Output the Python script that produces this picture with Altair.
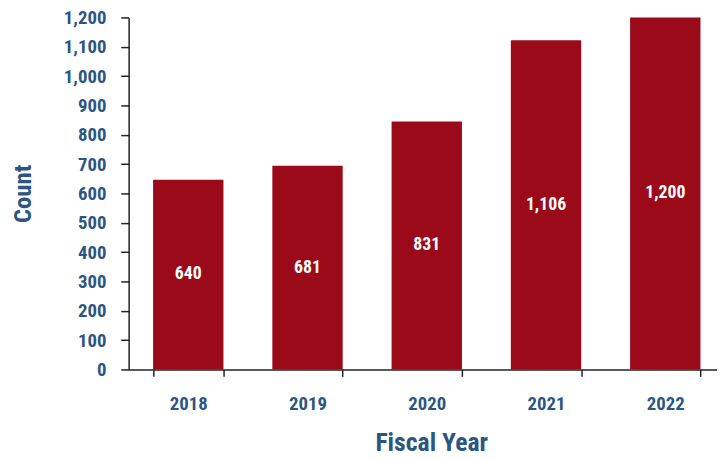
import altair as alt
import pandas as pd

years = ["2018", "2019", "2020", "2021", "2022"]
bar_heights = [647, 694, 845, 1122, 1200]
bar_labels = ["640", "681", "831", "1,106", "1,200"]
y_ticks = list(range(0, 1201, 100))

df = pd.DataFrame({"year": years, "count": bar_heights, "label": bar_labels})
df["half"] = df["count"] / 2

FONT = "Roboto Condensed, Liberation Sans Narrow, Liberation Sans, Arial, sans-serif"
BLUE = "#2B5583"
RED = "#9B0A19"

x_scale = alt.Scale(range=[0, 603], paddingInner=0.41, paddingOuter=0.205)
y_scale = alt.Scale(domain=[0, 1200], nice=False)

x_axis = alt.Axis(
    title="Fiscal Year",
    labelAngle=0,
    tickBand="extent",
    tickSize=7,
    labelBaseline="alphabetic",
    labelPadding=34,
    labelFontSize=19,
    titleFontSize=26,
    titleX=306,
    titleY=82,
    titleBaseline="alphabetic",
)
y_axis = alt.Axis(
    title="Count",
    values=y_ticks,
    format=",d",
    tickSize=8,
    labelPadding=15,
    labelFontSize=19,
    titleFontSize=25,
    titleX=-107,
    titleY=178,
    titleAngle=-90,
    titleAlign="center",
    titleBaseline="middle",
)

base = alt.Chart(df).encode(
    x=alt.X("year:N", sort=years, scale=x_scale, axis=x_axis)
)

bars = base.mark_bar(color=RED).encode(
    y=alt.Y("count:Q", scale=y_scale, axis=y_axis),
)

text = base.mark_text(
    color="white", fontSize=18, fontWeight="bold", font=FONT, baseline="middle"
).encode(
    y=alt.Y("half:Q", scale=y_scale, axis=y_axis),
    text="label:N",
)

chart = (
    alt.layer(bars, text)
    .properties(
        width=595,
        height=356,
        autosize=alt.AutoSizeParams(type="none"),
        padding={"left": 122, "top": 7, "right": 0, "bottom": 86},
    )
    .configure_view(stroke=None)
    .configure_axis(
        grid=False,
        domainColor="#222222",
        tickColor="#222222",
        domainWidth=1.5,
        tickWidth=1.5,
        labelColor=BLUE,
        titleColor=BLUE,
        labelFont=FONT,
        titleFont=FONT,
        labelFontWeight="bold",
        titleFontWeight="bold",
    )
)

chart.save("out.html", embed_options={"renderer": "svg", "actions": False})
